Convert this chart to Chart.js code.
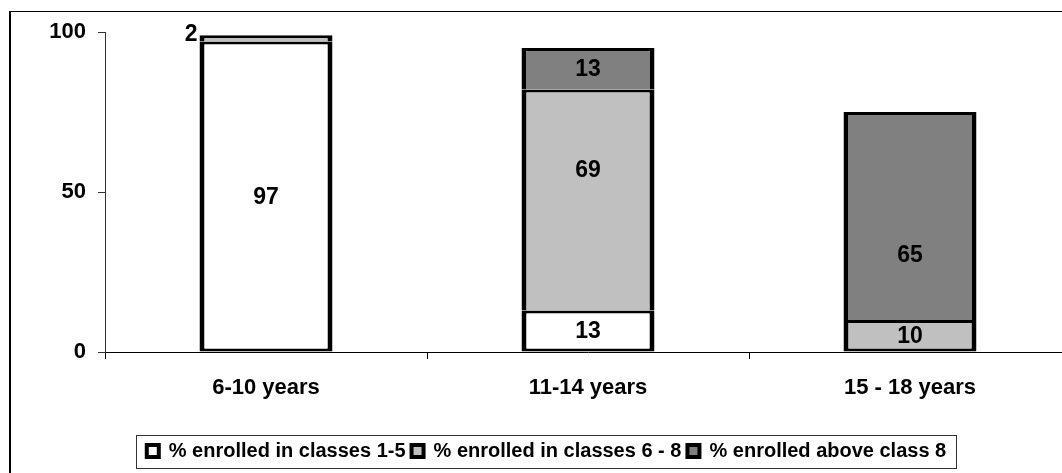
<!DOCTYPE html>
<html lang="en">
<head>
    <meta charset="UTF-8">
    <title>School enrolment by age group</title>
    <script src="https://cdn.jsdelivr.net/npm/chart.js"></script>
    <style>
        body {
            margin: 0;
            padding: 0;
            overflow: hidden;
            background: #ffffff;
            font-family: "Liberation Sans", Arial, sans-serif;
        }
        #frame {
            position: absolute;
            left: 9px;
            top: 11px;
            width: 1100px;
            height: 500px;
            border-top: 1px solid #000;
            border-left: 2px solid #000;
        }
        #wrap {
            position: absolute;
            left: 0;
            top: 0;
            width: 1090px;
            height: 473px;
        }
    </style>
</head>
<body>
    <div id="frame"></div>
    <div id="wrap"><canvas id="enrolChart"></canvas></div>

    <script>
        const categories = ['6-10 years', '11-14 years', '15 - 18 years'];
        const seriesNames = ['% enrolled in classes 1-5', '% enrolled in classes 6 - 8', '% enrolled above class 8'];
        const classes1to5 = [97, 13, 0];
        const classes6to8 = [2, 69, 10];
        const aboveClass8 = [0, 13, 65];
        const yTicks = [0, 50, 100];

        const fills = ['#ffffff', '#c0c0c0', '#808080'];
        const FONT = '"Liberation Sans", Arial, sans-serif';

        // bottom edge only on the lowest visible segment of each stack
        function segmentBorder(ctx) {
            const sets = ctx.chart.data.datasets;
            let lowest = true;
            for (let d = 0; d < ctx.datasetIndex; d++) {
                if (sets[d].data[ctx.dataIndex] > 0) lowest = false;
            }
            return { top: 3, left: 5, right: 5, bottom: lowest ? 3 : 0 };
        }

        const datasets = [classes1to5, classes6to8, aboveClass8].map((vals, i) => ({
            label: seriesNames[i],
            data: vals,
            backgroundColor: fills[i],
            borderColor: '#000000',
            borderWidth: segmentBorder,
            borderSkipped: false,
            barPercentage: 0.413,
            categoryPercentage: 1.0
        }));

        // value labels inside the segments; tiny segments get theirs to the left of the bar top
        const segmentLabels = {
            id: 'segmentLabels',
            afterDatasetsDraw(chart, args, opts) {
                const ctx = chart.ctx;
                ctx.save();
                ctx.font = 'bold 23px ' + FONT;
                ctx.fillStyle = '#000';
                chart.data.datasets.forEach((ds, d) => {
                    const meta = chart.getDatasetMeta(d);
                    meta.data.forEach((bar, i) => {
                        const v = ds.data[i];
                        if (!v) return;
                        const h = Math.abs(bar.base - bar.y);
                        if (h < 14) {
                            ctx.textAlign = 'right';
                            ctx.textBaseline = 'middle';
                            ctx.fillText(String(v), bar.x - bar.width / 2 - 2, bar.y - 1);
                        } else {
                            const nudge = opts.nudge[d + ':' + i] || 0;
                            ctx.textAlign = 'center';
                            ctx.textBaseline = 'middle';
                            ctx.fillText(String(v), bar.x, (bar.y + bar.base) / 2 + nudge + 1);
                        }
                    });
                });
                ctx.restore();
            }
        };

        // thin frame round the legend row
        const legendFrame = {
            id: 'legendFrame',
            afterDraw(chart) {
                const boxes = chart.legend.legendHitBoxes;
                if (!boxes || !boxes.length) return;
                const first = boxes[0];
                const last = boxes[boxes.length - 1];
                const mid = first.top + first.height / 2;
                const ctx = chart.ctx;
                ctx.save();
                ctx.strokeStyle = '#333';
                ctx.lineWidth = 1;
                const left = Math.round(first.left - 11) + 0.5;
                const right = Math.round(last.left + last.width + 10) + 0.5;
                const top = Math.round(mid - 16) + 0.5;
                ctx.strokeRect(left, top, right - left, 33);
                ctx.restore();
            }
        };

        const chart = new Chart(document.getElementById('enrolChart'), {
            type: 'bar',
            data: { labels: categories, datasets: datasets },
            plugins: [segmentLabels, legendFrame],
            options: {
                responsive: true,
                maintainAspectRatio: false,
                animation: false,
                layout: { padding: { left: 22, right: 19, top: 32, bottom: 2 } },
                plugins: {
                    tooltip: { enabled: false },
                    segmentLabels: { nudge: { '1:1': -30, '2:2': 39 } },
                    legend: {
                        position: 'bottom',
                        labels: {
                            boxWidth: 12,
                            boxHeight: 12,
                            padding: 6,
                            color: '#000',
                            font: { family: FONT, size: 20, weight: 'bold' },
                            generateLabels(c) {
                                return Chart.defaults.plugins.legend.labels.generateLabels(c).map(item => {
                                    item.lineWidth = 4;
                                    item.strokeStyle = '#000';
                                    return item;
                                });
                            }
                        }
                    }
                },
                scales: {
                    x: {
                        stacked: true,
                        afterFit(scale) { scale.height = 83; },
                        border: { color: '#000', width: 1 },
                        grid: { offset: true, drawOnChartArea: false, drawTicks: true, tickLength: 7, color: '#000' },
                        ticks: {
                            color: '#000',
                            padding: 16,
                            font: { family: FONT, size: 22, weight: 'bold' }
                        }
                    },
                    y: {
                        stacked: true,
                        min: 0,
                        max: 100,
                        afterFit(scale) { scale.width = 83; },
                        afterBuildTicks(scale) { scale.ticks = yTicks.map(v => ({ value: v })); },
                        border: { color: '#333', width: 1 },
                        grid: { drawOnChartArea: false, drawTicks: true, tickLength: 7, color: '#333' },
                        ticks: {
                            color: '#000',
                            padding: 12,
                            font: { family: FONT, size: 22, weight: 'bold' }
                        }
                    }
                }
            }
        });
    </script>
</body>
</html>
